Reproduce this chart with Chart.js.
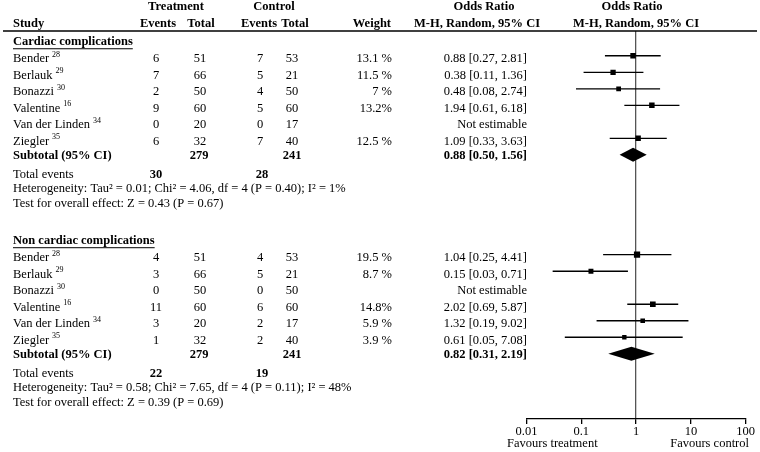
<!DOCTYPE html>
<html>
<head>
<meta charset="utf-8">
<script src="https://cdn.jsdelivr.net/npm/chart.js@4.4.1/dist/chart.umd.min.js"></script>
<style>
  html, body { margin: 0; padding: 0; background: #fff; }
  #wrap { width: 760px; height: 452px; }
</style>
</head>
<body>
<div id="wrap"><canvas id="forest" width="760" height="452"></canvas></div>
<script>
// the same six studies appear in both groups
const studyNames = ['Bender', 'Berlauk', 'Bonazzi', 'Valentine', 'Van der Linden', 'Ziegler'];
const studyRefs = ['28', '29', '30', '16', '34', '35'];
const treatTotals = [51, 66, 50, 60, 20, 32];
const ctrlTotals = [53, 21, 50, 60, 17, 40];

// cardiac complications
const cardiacTreatEvents = [6, 7, 2, 9, 0, 6];
const cardiacCtrlEvents = [7, 5, 4, 5, 0, 7];
const cardiacWeights = [13.1, 11.5, 7, 13.2, null, 12.5];
const cardiacWeightLabels = ['13.1 %', '11.5 %', '7 %', '13.2%', '', '12.5 %'];
const cardiacOR = [0.88, 0.38, 0.48, 1.94, null, 1.09];
const cardiacLow = [0.27, 0.11, 0.08, 0.61, null, 0.33];
const cardiacHigh = [2.81, 1.36, 2.74, 6.18, null, 3.63];
const cardiacPooled = [0.88, 0.50, 1.56];
const cardiacTotals = [279, 241];
const cardiacEventTotals = [30, 28];
const cardiacHet = 'Heterogeneity: Tau\u00b2 = 0.01; Chi\u00b2 = 4.06, df = 4 (P = 0.40); I\u00b2 = 1%';
const cardiacTest = 'Test for overall effect: Z = 0.43 (P = 0.67)';

// non cardiac complications
const nonCardiacTreatEvents = [4, 3, 0, 11, 3, 1];
const nonCardiacCtrlEvents = [4, 5, 0, 6, 2, 2];
const nonCardiacWeights = [19.5, 8.7, null, 14.8, 5.9, 3.9];
const nonCardiacWeightLabels = ['19.5 %', '8.7 %', '', '14.8%', '5.9 %', '3.9 %'];
const nonCardiacOR = [1.04, 0.15, null, 2.02, 1.32, 0.61];
const nonCardiacLow = [0.25, 0.03, null, 0.69, 0.19, 0.05];
const nonCardiacHigh = [4.41, 0.71, null, 5.87, 9.02, 7.08];
const nonCardiacPooled = [0.82, 0.31, 2.19];
const nonCardiacTotals = [279, 241];
const nonCardiacEventTotals = [22, 19];
const nonCardiacHet = 'Heterogeneity: Tau\u00b2 = 0.58; Chi\u00b2 = 7.65, df = 4 (P = 0.11); I\u00b2 = 48%';
const nonCardiacTest = 'Test for overall effect: Z = 0.39 (P = 0.69)';

const axisTicks = [0.01, 0.1, 1, 10, 100];

const groups = [
  { title: 'Cardiac complications', start: 0.5, te: cardiacTreatEvents, ce: cardiacCtrlEvents,
    w: cardiacWeights, wl: cardiacWeightLabels, or: cardiacOR, lo: cardiacLow, hi: cardiacHigh,
    pooled: cardiacPooled, totals: cardiacTotals, events: cardiacEventTotals, het: cardiacHet, test: cardiacTest },
  { title: 'Non cardiac complications', start: 12.55, te: nonCardiacTreatEvents, ce: nonCardiacCtrlEvents,
    w: nonCardiacWeights, wl: nonCardiacWeightLabels, or: nonCardiacOR, lo: nonCardiacLow, hi: nonCardiacHigh,
    pooled: nonCardiacPooled, totals: nonCardiacTotals, events: nonCardiacEventTotals, het: nonCardiacHet, test: nonCardiacTest }
];

const FONT = '"Liberation Serif", "Times New Roman", serif';
const FS = 12.5;
const TEXT_DY = 3;

// build datasets: one line per confidence interval, one set of squares
const datasets = [];
const squares = [];
const squareSizes = [];
groups.forEach(g => {
  g.or.forEach((v, i) => {
    if (v == null) return;
    const row = g.start + 1 + i;
    datasets.push({
      data: [{ x: g.lo[i], y: row }, { x: g.hi[i], y: row }],
      showLine: true,
      borderColor: '#000',
      borderWidth: 1.3,
      pointRadius: 0
    });
    squares.push({ x: v, y: row });
    // rect point side = radius * sqrt(2)
    squareSizes.push((3.9 + 0.12 * g.w[i]) / Math.SQRT2);
  });
});
datasets.push({
  data: squares,
  pointStyle: 'rect',
  pointRadius: squareSizes,
  backgroundColor: '#000',
  borderWidth: 0
});

function put(ctx, s, x, y, align, bold, size) {
  ctx.font = (bold ? 'bold ' : '') + (size || FS) + 'px ' + FONT;
  ctx.textAlign = align || 'left';
  ctx.textBaseline = 'middle';
  ctx.fillText(s, x, y);
  return ctx.measureText(s).width;
}

const forestText = {
  id: 'forestText',
  afterDatasetsDraw(chart) {
    const { ctx, scales: { x, y } } = chart;
    ctx.save();
    ctx.fillStyle = '#000';
    groups.forEach(g => {
      const yp = y.getPixelForValue(g.start + 7);
      const xl = x.getPixelForValue(g.pooled[1]);
      const xm = x.getPixelForValue(g.pooled[0]);
      const xr = x.getPixelForValue(g.pooled[2]);
      ctx.beginPath();
      ctx.moveTo(xl, yp);
      ctx.lineTo(xm, yp - 7);
      ctx.lineTo(xr, yp);
      ctx.lineTo(xm, yp + 7);
      ctx.closePath();
      ctx.fill();
    });
    ctx.restore();
  },
  afterDraw(chart) {
    const { ctx, chartArea, scales: { y } } = chart;
    const py = v => y.getPixelForValue(v) + TEXT_DY;
    ctx.save();
    ctx.fillStyle = '#000';
    ctx.strokeStyle = '#000';

    // header
    const h1 = 7, h2 = 24;
    put(ctx, 'Treatment', 176, h1, 'center', true);
    put(ctx, 'Control', 274, h1, 'center', true);
    put(ctx, 'Odds Ratio', 484, h1, 'center', true);
    put(ctx, 'Odds Ratio', 632, h1, 'center', true);
    put(ctx, 'Study', 13, h2, 'left', true);
    put(ctx, 'Events', 158, h2, 'center', true);
    put(ctx, 'Total', 201, h2, 'center', true);
    put(ctx, 'Events', 259, h2, 'center', true);
    put(ctx, 'Total', 295, h2, 'center', true);
    put(ctx, 'Weight', 391, h2, 'right', true);
    put(ctx, 'M-H, Random, 95% CI', 477, h2, 'center', true);
    put(ctx, 'M-H, Random, 95% CI', 636, h2, 'center', true);
    ctx.lineWidth = 1.5;
    ctx.beginPath();
    ctx.moveTo(3, chartArea.top);
    ctx.lineTo(757, chartArea.top);
    ctx.stroke();

    groups.forEach(g => {
      let yy = py(g.start);
      const tw = put(ctx, g.title, 13, yy, 'left', true);
      ctx.lineWidth = 1;
      ctx.beginPath();
      ctx.moveTo(13, yy + 6.5);
      ctx.lineTo(13 + tw, yy + 6.5);
      ctx.stroke();

      studyNames.forEach((name, i) => {
        yy = py(g.start + 1 + i);
        const nw = put(ctx, name, 13, yy, 'left');
        put(ctx, studyRefs[i], 13 + nw + 3, yy - 4, 'left', false, 8);
        put(ctx, String(g.te[i]), 156, yy, 'center');
        put(ctx, String(treatTotals[i]), 200, yy, 'center');
        put(ctx, String(g.ce[i]), 260, yy, 'center');
        put(ctx, String(ctrlTotals[i]), 292, yy, 'center');
        put(ctx, g.wl[i], 392, yy, 'right');
        const orText = g.or[i] == null ? 'Not estimable'
          : g.or[i].toFixed(2) + ' [' + g.lo[i].toFixed(2) + ', ' + g.hi[i].toFixed(2) + ']';
        put(ctx, orText, 527, yy, 'right');
      });

      yy = py(g.start + 7) - 2;
      put(ctx, 'Subtotal (95% CI)', 13, yy, 'left', true);
      put(ctx, String(g.totals[0]), 199, yy, 'center', true);
      put(ctx, String(g.totals[1]), 292, yy, 'center', true);
      put(ctx, g.pooled[0].toFixed(2) + ' [' + g.pooled[1].toFixed(2) + ', ' + g.pooled[2].toFixed(2) + ']',
        527, yy, 'right', true);

      yy = py(g.start + 8);
      put(ctx, 'Total events', 13, yy, 'left');
      put(ctx, String(g.events[0]), 156, yy, 'center', true);
      put(ctx, String(g.events[1]), 262, yy, 'center', true);
      put(ctx, g.het, 13, py(g.start + 8.9), 'left');
      put(ctx, g.test, 13, py(g.start + 9.8), 'left');
    });

    put(ctx, 'Favours treatment', 507, 444, 'left');
    put(ctx, 'Favours control', 749, 444, 'right');
    ctx.restore();
  }
};

new Chart(document.getElementById('forest'), {
  type: 'scatter',
  data: { datasets: datasets },
  plugins: [forestText],
  options: {
    responsive: false,
    animation: false,
    layout: { padding: { left: 526.5, right: 14.3, top: 31, bottom: 0 } },
    plugins: { legend: { display: false }, tooltip: { enabled: false } },
    scales: {
      x: {
        type: 'logarithmic',
        min: 0.01,
        max: 100,
        afterBuildTicks: scale => { scale.ticks = axisTicks.map(v => ({ value: v })); },
        afterFit: scale => { scale.height = 33; },
        ticks: {
          padding: 0,
          color: '#000',
          font: { family: FONT, size: FS },
          callback: v => String(v)
        },
        grid: {
          color: c => (c.tick && c.tick.value === 1 ? '#555' : 'rgba(0,0,0,0)'),
          tickColor: '#000',
          tickLength: 5,
          lineWidth: 1.3
        },
        border: { display: true, color: '#000', width: 1.3 }
      },
      y: {
        type: 'linear',
        display: false,
        reverse: true,
        min: 0,
        max: 23.5
      }
    }
  }
});
</script>
</body>
</html>
